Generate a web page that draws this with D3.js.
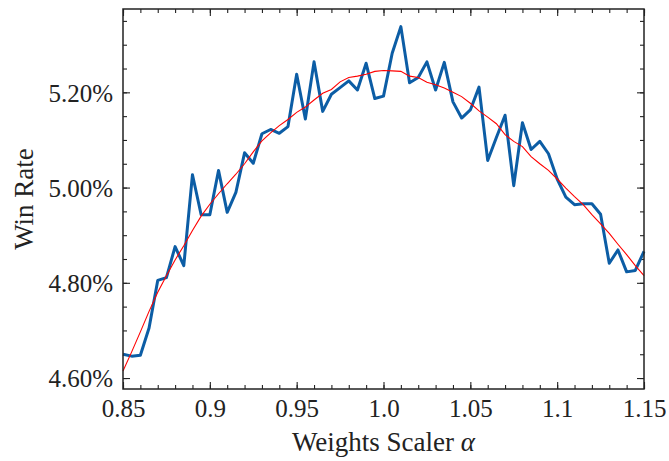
<!DOCTYPE html>
<html>
<head>
<meta charset="utf-8">
<script src="https://cdn.jsdelivr.net/npm/d3@7"></script>
<style>
  body { margin: 0; background: #fff; }
</style>
</head>
<body>
<div id="chart"></div>
<script>
var FONT = "'Liberation Serif', 'DejaVu Serif', serif";

// weight scaler values (step 0.005)
var alphas = d3.range(61).map(function(i) { return +(0.85 + i * 0.005).toFixed(3); });

// measured win rate (%)
var winRate = [
  4.650, 4.646, 4.648, 4.705, 4.805, 4.811, 4.876, 4.836, 5.027, 4.943,
  4.943, 5.036, 4.948, 4.990, 5.073, 5.051, 5.113, 5.122, 5.114, 5.128,
  5.238, 5.144, 5.264, 5.160, 5.196, 5.210, 5.224, 5.205, 5.261, 5.187,
  5.192, 5.282, 5.338, 5.220, 5.231, 5.264, 5.205, 5.263, 5.180, 5.146,
  5.163, 5.211, 5.057, 5.105, 5.152, 5.004, 5.136, 5.080, 5.097, 5.071,
  5.018, 4.980, 4.964, 4.966, 4.966, 4.944, 4.841, 4.869, 4.823, 4.826,
  4.866
];

// smoothed trend (%)
var trend = [
  4.615, 4.655, 4.697, 4.740, 4.780, 4.815, 4.848, 4.878, 4.910, 4.940,
  4.965, 4.987, 5.008, 5.028, 5.050, 5.075, 5.098, 5.115, 5.130, 5.143,
  5.158, 5.169, 5.184, 5.198, 5.206, 5.222, 5.231, 5.234, 5.238, 5.244,
  5.246, 5.245, 5.244, 5.234, 5.231, 5.221, 5.216, 5.209, 5.200, 5.191,
  5.177, 5.161, 5.148, 5.134, 5.111, 5.097, 5.086, 5.065, 5.050, 5.036,
  5.018, 4.999, 4.981, 4.964, 4.943, 4.924, 4.904, 4.881, 4.859, 4.836,
  4.815
];

var xTicks = [0.85, 0.9, 0.95, 1.0, 1.05, 1.1, 1.15];
var xTickLabels = ["0.85", "0.9", "0.95", "1.0", "1.05", "1.1", "1.15"];
var yTicks = [4.6, 4.8, 5.0, 5.2];

var W = 669, H = 461;
var margin = {top: 9, right: 25, bottom: 72, left: 123};
var width = W - margin.left - margin.right,
    height = H - margin.top - margin.bottom;

var svg = d3.select("#chart").append("svg")
    .attr("width", W)
    .attr("height", H)
    .attr("font-family", FONT);

var g = svg.append("g")
    .attr("transform", "translate(" + margin.left + "," + margin.top + ")");

var x = d3.scaleLinear().domain([0.85, 1.15]).range([0, width]);
var y = d3.scaleLinear().domain([4.577, 5.375]).range([height, 0]);

// ticks pointing inward on all four sides
var xMinor = d3.range(85, 116).map(function(v) { return v / 100; });
var yMinor = d3.range(92, 108).map(function(v) { return v / 20; });

function tickAxis(axisFn, scale, values, size, fmt) {
  return axisFn(scale).tickValues(values).tickSizeInner(-size).tickSizeOuter(0)
    .tickFormat(fmt || "");
}

var fmtY = function(d) { return d3.format(".2f")(d) + "%"; };
var fmtX = function(d) { return xTickLabels[xTicks.indexOf(d)]; };

var axes = [
  [g.append("g").attr("transform", "translate(0," + height + ")"), d3.axisBottom, x, xMinor, 4, null],
  [g.append("g").attr("transform", "translate(0," + height + ")"), d3.axisBottom, x, xTicks, 7, fmtX],
  [g.append("g"), d3.axisTop, x, xMinor, 4, null],
  [g.append("g"), d3.axisTop, x, xTicks, 7, null],
  [g.append("g"), d3.axisLeft, y, yMinor, 4, null],
  [g.append("g"), d3.axisLeft, y, yTicks, 7, fmtY],
  [g.append("g").attr("transform", "translate(" + width + ",0)"), d3.axisRight, y, yMinor, 4, null],
  [g.append("g").attr("transform", "translate(" + width + ",0)"), d3.axisRight, y, yTicks, 7, null]
];
axes.forEach(function(a) {
  a[0].call(tickAxis(a[1], a[2], a[3], a[4], a[5]));
  a[0].attr("font-family", FONT);
  a[0].select(".domain").remove();
  a[0].selectAll(".tick line").attr("stroke", "#222").attr("stroke-width", 1.1);
  a[0].selectAll(".tick text")
      .style("font-family", FONT)
      .style("font-size", "25px")
      .attr("fill", "#222");
});
axes[1][0].selectAll(".tick text").attr("y", 10).attr("dy", "0.71em");
axes[5][0].selectAll(".tick text").attr("x", -10).attr("dy", "0.35em");

// blue measured line
var line = function(vals) {
  return d3.line()
    .x(function(d, i) { return x(alphas[i]); })
    .y(function(d) { return y(d); })(vals);
};

g.append("path")
    .attr("d", line(winRate))
    .attr("fill", "none")
    .attr("stroke", "#0C5DA5")
    .attr("stroke-width", 3)
    .attr("stroke-linejoin", "round");

g.append("path")
    .attr("d", line(trend))
    .attr("fill", "none")
    .attr("stroke", "#ff0000")
    .attr("stroke-width", 1.1);

// frame
g.append("rect")
    .attr("width", width)
    .attr("height", height)
    .attr("fill", "none")
    .attr("stroke", "#222")
    .attr("stroke-width", 1.5);

// axis labels
var xl = svg.append("text")
    .attr("x", margin.left + width / 2)
    .attr("y", 451)
    .attr("text-anchor", "middle")
    .style("font-family", FONT)
    .style("font-size", "27px")
    .attr("fill", "#222");
xl.append("tspan").text("Weights Scaler ");
xl.append("tspan").style("font-style", "italic").text("α");

svg.append("text")
    .attr("transform", "translate(33," + (margin.top + height / 2) + ") rotate(-90)")
    .attr("text-anchor", "middle")
    .style("font-family", FONT)
    .style("font-size", "27px")
    .attr("fill", "#222")
    .text("Win Rate");
</script>
</body>
</html>
